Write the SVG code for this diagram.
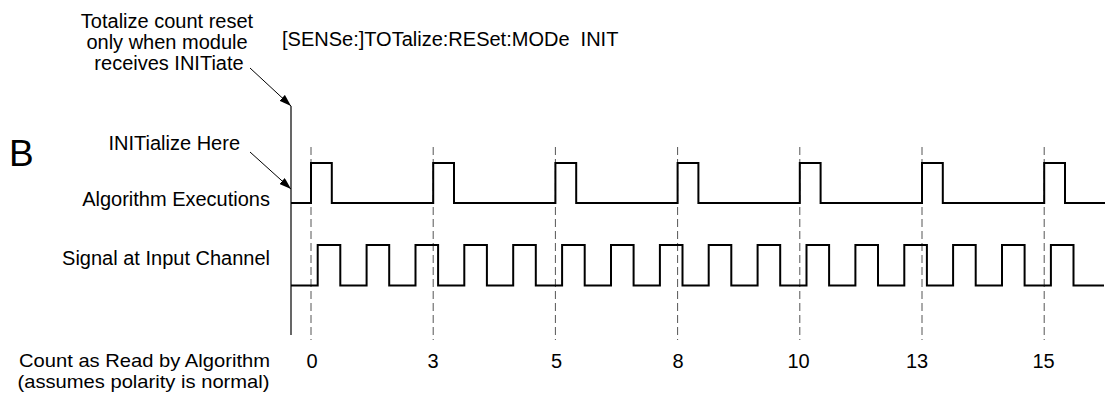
<svg xmlns="http://www.w3.org/2000/svg" width="1107" height="393" viewBox="0 0 1107 393">
  <style>
    text { font-family: "Liberation Sans", Arial, sans-serif; font-size: 20px; fill: #000; }
    .end { text-anchor: end; }
    .mid { text-anchor: middle; }
    .small { font-size: 19px; }
    .wave { fill: none; stroke: #000; stroke-width: 2; stroke-linejoin: miter; }
    .tick { stroke: #555; stroke-width: 1; stroke-dasharray: 8 4; }
    .axis { stroke: #000; stroke-width: 1.2; }
    .lead { stroke: #000; stroke-width: 1; fill: none; }
  </style>
  <defs>
    <marker id="head" viewBox="0 0 12 8" refX="12" refY="4" markerWidth="12" markerHeight="8" markerUnits="userSpaceOnUse" orient="auto">
      <path d="M0,0 L12,4 L0,8 Z" fill="#000"/>
    </marker>
  </defs>

  <rect width="1107" height="393" fill="#fff"/>

  <!-- panel letter -->
  <g id="panel-label">
    <text x="9" y="166" style="font-size:37px">B</text>
  </g>

  <!-- command and note -->
  <g id="note-reset">
    <text class="mid" x="167" y="28">Totalize count reset</text>
    <text class="mid" x="167" y="49">only when module</text>
    <text class="mid" x="169" y="70">receives INITiate</text>
  </g>
  <g id="command">
    <text x="282" y="46" xml:space="preserve">[SENSe:]TOTalize:RESet:MODe  INIT</text>
  </g>
  <g id="note-init">
    <text class="end" x="240" y="149.5">INITialize Here</text>
  </g>

  <!-- time reference line -->
  <g id="time-axis">
    <line class="axis" x1="291" y1="106" x2="291" y2="335"/>
  </g>

  <!-- sample instants -->
  <g id="sample-marks">
    <line class="tick" x1="311" y1="147" x2="311" y2="340"/>
    <line class="tick" x1="433.2" y1="147" x2="433.2" y2="340"/>
    <line class="tick" x1="555.4" y1="147" x2="555.4" y2="340"/>
    <line class="tick" x1="677.6" y1="147" x2="677.6" y2="340"/>
    <line class="tick" x1="799.8" y1="147" x2="799.8" y2="340"/>
    <line class="tick" x1="922" y1="147" x2="922" y2="340"/>
    <line class="tick" x1="1044.2" y1="147" x2="1044.2" y2="340"/>
  </g>

  <!-- algorithm execution trace -->
  <g id="algorithm-executions">
    <text class="end" x="270" y="206">Algorithm Executions</text>
    <path class="wave" d="M291,203 H311 V163 H331.8 V203 H433.2 V163 H454 V203 H555.4 V163 H576.2 V203 H677.6 V163 H698.4 V203 H799.8 V163 H820.6 V203 H922 V163 H942.8 V203 H1044.2 V163 H1065 V203 H1105"/>
  </g>

  <!-- input signal trace -->
  <g id="input-signal">
    <text class="end" x="270" y="264.5">Signal at Input Channel</text>
    <path class="wave" d="M291,285.5 H317.7 V245 H340.3 V285.5 H366.6 V245 H389.2 V285.5 H415.5 V245 H438.1 V285.5 H464.3 V245 H486.9 V285.5 H513.2 V245 H535.8 V285.5 H562.1 V245 H584.7 V285.5 H611 V245 H633.6 V285.5 H659.9 V245 H682.5 V285.5 H708.7 V245 H731.3 V285.5 H757.6 V245 H780.2 V285.5 H806.5 V245 H829.1 V285.5 H855.4 V245 H878 V285.5 H904.3 V245 H926.9 V285.5 H953.1 V245 H975.7 V285.5 H1002 V245 H1024.6 V285.5 H1050.9 V245 H1073.5 V285.5 H1104"/>
  </g>

  <!-- counts read at each execution -->
  <g id="counts">
    <text class="end small" x="270" y="366.5" textLength="251" lengthAdjust="spacingAndGlyphs">Count as Read by Algorithm</text>
    <text class="end small" x="269.5" y="388" textLength="252" lengthAdjust="spacingAndGlyphs">(assumes polarity is normal)</text>
    <text class="mid" x="312" y="368">0</text>
    <text class="mid" x="433" y="368">3</text>
    <text class="mid" x="556.5" y="368">5</text>
    <text class="mid" x="678" y="368">8</text>
    <text class="mid" x="798.5" y="368">10</text>
    <text class="mid" x="917" y="368">13</text>
    <text class="mid" x="1043.5" y="368">15</text>
  </g>

  <!-- leader arrows -->
  <g id="connectors">
    <line class="lead" x1="250" y1="68" x2="291" y2="106" marker-end="url(#head)"/>
    <line class="lead" x1="250" y1="152" x2="291" y2="189" marker-end="url(#head)"/>
  </g>
</svg>
